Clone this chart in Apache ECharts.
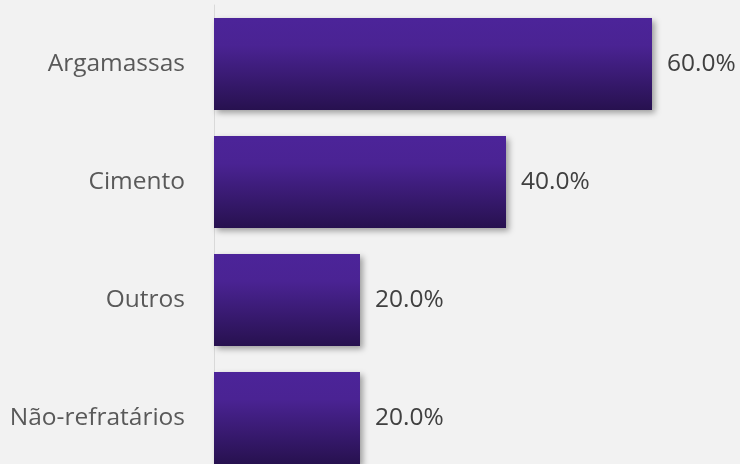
<!DOCTYPE html>
<html>
<head>
<meta charset="utf-8">
<script src="https://cdn.jsdelivr.net/npm/echarts@6/dist/echarts.min.js"></script>
<style>
  html, body { margin: 0; padding: 0; background: #f2f2f2; }
  #chart { width: 740px; height: 464px; }
</style>
</head>
<body>
<div id="chart"></div>
<script>
// categories listed bottom-to-top (ECharts category y axis starts at the bottom)
const categories = ['Não-refratários', 'Outros', 'Cimento', 'Argamassas'];
const shares = [20, 20, 40, 60];

const chart = echarts.init(document.getElementById('chart'));

const barFill = new echarts.graphic.LinearGradient(0, 0, 0, 1, [
  { offset: 0, color: '#4c2499' },
  { offset: 0.3, color: '#4a2393' },
  { offset: 1, color: '#27114f' },
]);

chart.setOption({
  backgroundColor: '#f2f2f2',
  animation: false,
  // the last band runs past the bottom edge, as in the original
  grid: { left: 214, right: 88, top: 5, height: 472, outerBoundsMode: 'none', containLabel: false },
  xAxis: {
    type: 'value',
    min: 0,
    max: 60,
    show: false,
  },
  yAxis: {
    type: 'category',
    data: categories,
    axisLine: { show: true, lineStyle: { color: '#d9d9d9', width: 1 } },
    axisTick: { show: false },
    axisLabel: {
      margin: 29,
      fontFamily: 'Open Sans',
      fontSize: 24.5,
      color: '#595959',
    },
  },
  series: [
    {
      type: 'bar',
      data: shares,
      barCategoryGap: '22%',
      itemStyle: {
        color: barFill,
        shadowColor: 'rgba(0,0,0,0.35)',
        shadowBlur: 6,
        shadowOffsetX: 3,
        shadowOffsetY: 3,
      },
      label: {
        show: true,
        position: 'right',
        distance: 15,
        formatter: (p) => p.value.toFixed(1) + '%',
        fontFamily: 'Open Sans',
        fontSize: 24.5,
        color: '#404040',
      },
    },
  ],
});
</script>
</body>
</html>
